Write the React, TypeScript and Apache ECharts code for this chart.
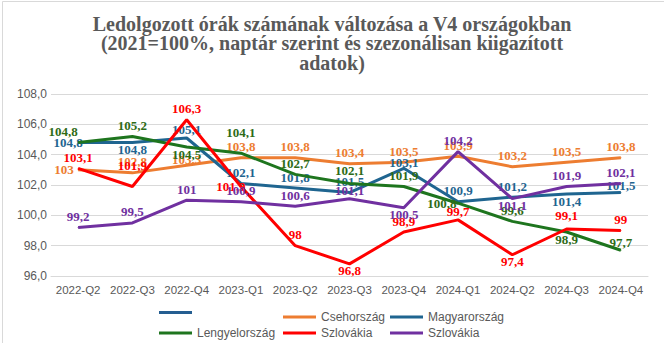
import React, { useEffect, useRef } from "react";
import * as echarts from "echarts";

const categories = ["2022-Q2", "2022-Q3", "2022-Q4", "2023-Q1", "2023-Q2", "2023-Q3", "2023-Q4", "2024-Q1", "2024-Q2", "2024-Q3", "2024-Q4"];
const cseh = [103, 102.8, 103.3, 103.8, 103.8, 103.4, 103.5, 103.9, 103.2, 103.5, 103.8];
const magyar = [104.8, 104.8, 105.1, 102.1, 101.8, 101.5, 103.1, 100.9, 101.2, 101.4, 101.5];
const lengyel = [104.8, 105.2, 104.5, 104.1, 102.7, 102.1, 101.9, 100.8, 99.6, 98.9, 97.7];
const szlovakRed = [103.1, 101.9, 106.3, 101.9, 98, 96.8, 98.9, 99.7, 97.4, 99.1, 99];
const szlovakPurple = [99.2, 99.5, 101, 100.9, 100.6, 101.1, 100.5, 104.2, 101.1, 101.9, 102.1];
const yTicks = [96, 98, 100, 102, 104, 106, 108];

// label placement (style only)
const T = "top", B = "bottom", L = "left";
const csehPos = [L, T, T, T, T, T, T, T, T, T, T];
const magyarPos = [L, B, T, T, T, T, T, T, T, B, T];
const lengyelPos = [T, T, B, T, T, T, T, L, T, B, T];
const redPos = [T, T, T, L, T, B, T, T, B, T, T];
const purplePos = [T, T, T, T, T, T, B, T, B, T, T];

const fmt = (v: number) => String(v).replace(".", ",");

function mkSeries(name: string, values: number[], color: string, pos: string[], labelColor: string, z: number, extra: Record<number, any> = {}) {
  return {
    name,
    type: "line",
    z,
    symbol: "circle",
    symbolSize: 1,
    showSymbol: true,
    lineStyle: { color, width: 3 },
    itemStyle: { color },
    data: values.map((v, i) => ({
      value: v,
      label: { position: pos[i], ...(pos[i] === B ? { distance: 0 } : {}), ...(extra[i] || {}) },
    })),
    label: {
      show: true,
      formatter: (p: any) => fmt(p.value),
      color: labelColor,
      fontFamily: "Liberation Serif",
      fontWeight: "bold",
      fontSize: 13,
      distance: 4,
    },
  };
}

export default function App() {
  const ref = useRef<HTMLDivElement>(null);
  useEffect(() => {
    document.body.style.margin = "0";
    const chart = echarts.init(ref.current!, null, { renderer: "svg" });
    const legendText = { color: "#595959", fontFamily: "Liberation Sans", fontSize: 12 };
    const legendItem = (name: string, left: number, top: number) => ({
      data: [name],
      left,
      top,
      icon: "rect",
      itemWidth: 33,
      itemHeight: 3,
      itemGap: 0,
      padding: 0,
      textStyle: legendText,
      selectedMode: false,
      formatter: (n: string) => (n === "_blank" ? "" : n === "Szlovákia_2" ? "Szlovákia" : n),
    });
    chart.setOption({
      animation: false,
      backgroundColor: "#ffffff",
      title: {
        text: "Ledolgozott órák számának változása a V4 országokban\n(2021=100%, naptár szerint és szezonálisan kiigazított\nadatok)",
        left: "center",
        top: 14,
        padding: 0,
        textStyle: {
          fontFamily: "Liberation Serif",
          fontWeight: "bold",
          fontSize: 20,
          lineHeight: 19.5,
          color: "#595959",
        },
      },
      graphic: [
        { type: "rect", shape: { x: 2.5, y: 1.5, width: 700, height: 400 }, style: { fill: "none", stroke: "#d9d9d9", lineWidth: 1 }, silent: true },
      ],
      legend: [
        legendItem("_blank", 159, 311),
        legendItem("Csehország", 283, 311),
        legendItem("Magyarország", 390, 311),
        legendItem("Lengyelország", 159, 327),
        legendItem("Szlovákia", 283, 327),
        legendItem("Szlovákia_2", 390, 327),
      ],
      grid: { left: 51, right: 16, top: 94, bottom: 67 },
      xAxis: {
        type: "category",
        data: categories,
        boundaryGap: true,
        axisLine: { lineStyle: { color: "#d9d9d9" } },
        axisTick: { show: false },
        axisLabel: { color: "#595959", fontFamily: "Liberation Sans", fontSize: 11.5, margin: 8, interval: 0 },
      },
      yAxis: {
        type: "value",
        min: yTicks[0],
        max: yTicks[yTicks.length - 1],
        interval: 2,
        axisLine: { show: false },
        axisTick: { show: false },
        splitLine: { lineStyle: { color: "#d9d9d9" } },
        axisLabel: {
          color: "#595959",
          fontFamily: "Liberation Sans",
          fontSize: 12,
          margin: 4,
          formatter: (v: number) => v.toFixed(1).replace(".", ","),
        },
      },
      series: [
        { name: "_blank", type: "line", data: [], symbol: "none", lineStyle: { color: "#255E91", width: 3 }, itemStyle: { color: "#255E91" } },
        mkSeries("Csehország", cseh, "#ED7D31", csehPos, "#ED7D31", 2, {
          2: { offset: [0, 5] },
        }),
        mkSeries("Magyarország", magyar, "#1F6590", magyarPos, "#1F6590", 3, {
          0: { offset: [9, 0] },
          2: { offset: [0, 3] },
          6: { offset: [0, 5] },
          10: { offset: [0, 4] },
        }),
        mkSeries("Lengyelország", lengyel, "#1E751E", lengyelPos, "#2E6B16", 4, {
          0: { offset: [-15, 0] },
          3: { offset: [0, -10] },
          5: { offset: [0, -2] },
          7: { offset: [3, 0] },
          10: { offset: [0, 3] },
        }),
        mkSeries("Szlovákia", szlovakRed, "#FF0000", redPos, "#FF0000", 5, {
          1: { offset: [0, -10] },
          3: { offset: [9, 0] },
          7: { offset: [0, 3] },
          9: { offset: [0, -2] },
        }),
        mkSeries("Szlovákia_2", szlovakPurple, "#7030A0", purplePos, "#7030A0", 6, {
          5: { offset: [0, 3] },
        }),
      ],
    });
    return () => chart.dispose();
  }, []);
  return <div ref={ref} style={{ width: 664, height: 343 }} />;
}
